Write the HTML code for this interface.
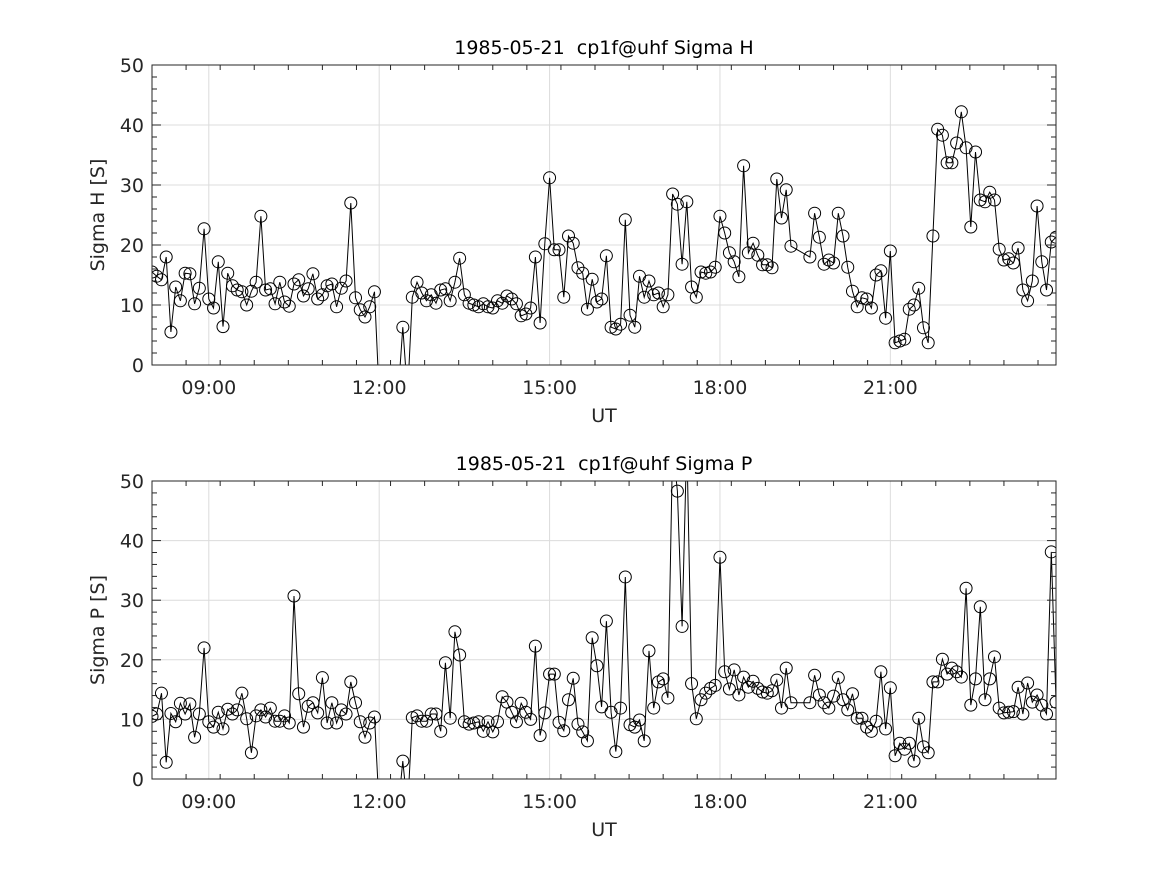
<!DOCTYPE html>
<html><head><meta charset="utf-8"><style>
body{margin:0;background:#fff}
svg{display:block;font-family:"DejaVu Sans","Liberation Sans",sans-serif}
text{white-space:pre}
</style></head><body>
<svg id="chart" width="1167" height="875" viewBox="0 0 1167 875" xmlns="http://www.w3.org/2000/svg"></svg>
<script>
// Times: 5-minute samples starting 08:00 (index k -> 08:00 + 5k min)
const startHour = 8;
const stepMin = 5;
const G = -5; // data gap (drops below axis)
const sigmaH = [
15.5,14.8,14.2,18,5.5,13,10.7,15.3,15.2,10.2,
12.8,22.7,11,9.5,17.2,6.4,15.3,13.2,12.5,12.2,
10,12.3,13.8,24.8,12.5,12.7,10.2,13.8,10.5,9.8,
13.5,14.2,11.5,12.7,15.2,11,11.7,13.2,13.5,9.7,
12.8,14,27,11.2,9.2,8,9.7,12.2,G,G,
G,G,G,6.3,G,11.3,13.8,12,10.7,11.7,
10.3,12.5,12.7,10.7,13.8,17.8,11.7,10.3,10,9.7,
10.2,9.7,9.5,10.7,10.3,11.5,11,10.2,8.2,8.5,
9.5,18,7,20.2,31.2,19.2,19.2,11.3,21.5,20.3,
16.2,15.3,9.3,14.3,10.5,11,18.2,6.3,6,6.8,
24.2,8.3,6.3,14.8,11.3,14,11.7,12,9.7,11.7,
28.5,26.8,16.8,27.2,13,11.3,15.5,15.3,15.5,16.3,
24.8,22,18.7,17.2,14.7,33.2,18.7,20.3,18.3,16.7,
16.7,16.2,31,24.5,29.2,19.8,null,null,null,18,
25.3,21.3,16.8,17.5,17,25.3,21.5,16.3,12.3,9.7,
11.2,11,9.5,15,15.7,7.8,19,3.7,4,4.3,
9.3,10,12.8,6.2,3.7,21.5,39.3,38.3,33.7,33.7,
37,42.2,36.2,23,35.5,27.5,27.2,28.8,27.5,19.3,
17.5,17.7,17,19.5,12.5,10.7,14,26.5,17.2,12.5,
20.5,21.3];
const sigmaP = [
10.5,10.9,14.4,2.8,11,9.6,12.7,10.9,12.6,7,
10.9,22,9.6,8.7,11.2,8.4,11.7,10.9,11.6,14.4,
10.1,4.4,10.6,11.6,10.4,11.9,9.7,9.7,10.6,9.4,
30.7,14.3,8.7,12.2,12.8,11.1,17,9.4,12.8,9.4,
11.6,10.9,16.3,12.8,9.6,7,9.4,10.4,G,G,
G,G,G,3,G,10.3,10.6,9.7,9.7,10.9,
10.9,8,19.5,10.2,24.7,20.8,9.6,9.2,9.4,9.6,
8,9.6,7.9,9.6,13.8,12.9,11.2,9.6,12.7,11.2,
10,22.3,7.3,11.1,17.6,17.6,9.5,8.1,13.3,16.9,
9.2,7.9,6.4,23.7,19,12.1,26.5,11.2,4.6,11.9,
33.9,9.1,8.7,9.9,6.4,21.5,11.9,16.3,16.8,13.6,
56,48.3,25.6,57,16,10.1,13.3,14.4,15.2,15.7,
37.2,18,15.1,18.3,14.1,17.1,15.4,16.4,15.2,14.6,
14.4,14.8,16.6,11.9,18.6,12.8,null,null,null,12.8,
17.4,14.1,12.8,11.9,13.9,17,13.3,11.6,14.3,10.2,
10.2,8.7,8,9.7,18,8.4,15.3,3.9,6,5,
6,3,10.2,5.4,4.4,16.3,16.3,20.1,17.6,18.6,
18,17.1,32,12.4,16.8,28.9,13.3,16.8,20.5,11.9,
11.1,11.2,11.3,15.4,10.9,16.1,12.9,14.1,12.4,10.9,
38.1,12.9];
const xTickHours = [9,12,15,18,21];
const xTickLabels = ["09:00","12:00","15:00","18:00","21:00"];
const yTicks = [0,10,20,30,40,50];

const NS="http://www.w3.org/2000/svg";
const svg=document.getElementById('chart');
function mk(tag,attrs,parent){const e=document.createElementNS(NS,tag);for(const k in attrs)e.setAttribute(k,attrs[k]);(parent||svg).appendChild(e);return e;}

const X0=152,X1=1056,H0=startHour,H1=8+191*stepMin/60;
function xs(h){return X0+(h-H0)/(H1-H0)*(X1-X0);}

function panel(id,top,bottom,title,ylabel,vals){
  const g=mk('g',{});
  
  
  const ys=v=>bottom-(v/50)*(bottom-top);
  yTicks.forEach(v=>{const l=mk('line',{x1:X0,x2:X1,y1:ys(v),y2:ys(v),stroke:'#dcdcdc','stroke-width':1},g);
    });
  xTickHours.forEach(h=>{const l=mk('line',{x1:xs(h),x2:xs(h),y1:top,y2:bottom,stroke:'#dcdcdc','stroke-width':1},g);
    });
  const cp=mk('clipPath',{id:'clip-'+id},g);mk('rect',{x:X0,y:top,width:X1-X0,height:bottom-top},cp);
  const dg=mk('g',{'clip-path':'url(#clip-'+id+')'},g);
  
  let pts=[];
  vals.forEach((v,k)=>{if(v===null)return;pts.push([xs(H0+k*stepMin/60),ys(v)]);});
  const pl=mk('polyline',{points:pts.map(p=>p[0].toFixed(1)+','+p[1].toFixed(1)).join(' '),fill:'none',stroke:'#000','stroke-width':1},dg);
  
  pts.forEach(p=>{const c=mk('circle',{cx:p[0],cy:p[1],r:6,fill:'none',stroke:'#000','stroke-width':1},dg);
    });
  for(let v=0;v<=50;v+=2){const y=ys(v),len=(v%10===0)?9:5;
    mk('line',{x1:X0,x2:X0+len,y1:y,y2:y,stroke:'#262626'},g);mk('line',{x1:X1,x2:X1-len,y1:y,y2:y,stroke:'#262626'},g);}
  for(let m=0;m<=16*60;m+=36){const h=H0+1+(m-60)/60; if(h<H0||h>H1)continue;const x=xs(h);const major=((m-60)%180===0);const len=major?9:5;
    mk('line',{x1:x,x2:x,y1:bottom,y2:bottom-len,stroke:'#262626'},g);mk('line',{x1:x,x2:x,y1:top,y2:top+len,stroke:'#262626'},g);}
  const fr=mk('rect',{x:X0,y:top,width:X1-X0,height:bottom-top,fill:'none',stroke:'#262626','stroke-width':1},g);
  
  yTicks.forEach(v=>{const t=mk('text',{x:X0-8,y:ys(v)+7,'text-anchor':'end','font-size':19,fill:'#262626'},g);t.textContent=v;
    });
  xTickHours.forEach((h,i)=>{const t=mk('text',{x:xs(h),y:bottom+29,'text-anchor':'middle','font-size':19,fill:'#262626'},g);t.textContent=xTickLabels[i];
    });
  const xl=mk('text',{x:(X0+X1)/2,y:bottom+57,'text-anchor':'middle','font-size':19,fill:'#262626'},g);xl.textContent='UT';
  
  const yl=mk('text',{x:0,y:0,'text-anchor':'middle','font-size':19,fill:'#262626',transform:`translate(104,${(top+bottom)/2}) rotate(-90)`},g);yl.textContent=ylabel;
  
  const tt=mk('text',{x:(X0+X1)/2,y:top-11,'text-anchor':'middle','font-size':19,fill:'#000','xml:space':'preserve'},g);tt.textContent=title;
  
}
panel('sigma-h',65,365,'1985-05-21  cp1f@uhf Sigma H','Sigma H [S]',sigmaH);
panel('sigma-p',481,779,'1985-05-21  cp1f@uhf Sigma P','Sigma P [S]',sigmaP);
</script>
</body></html>
